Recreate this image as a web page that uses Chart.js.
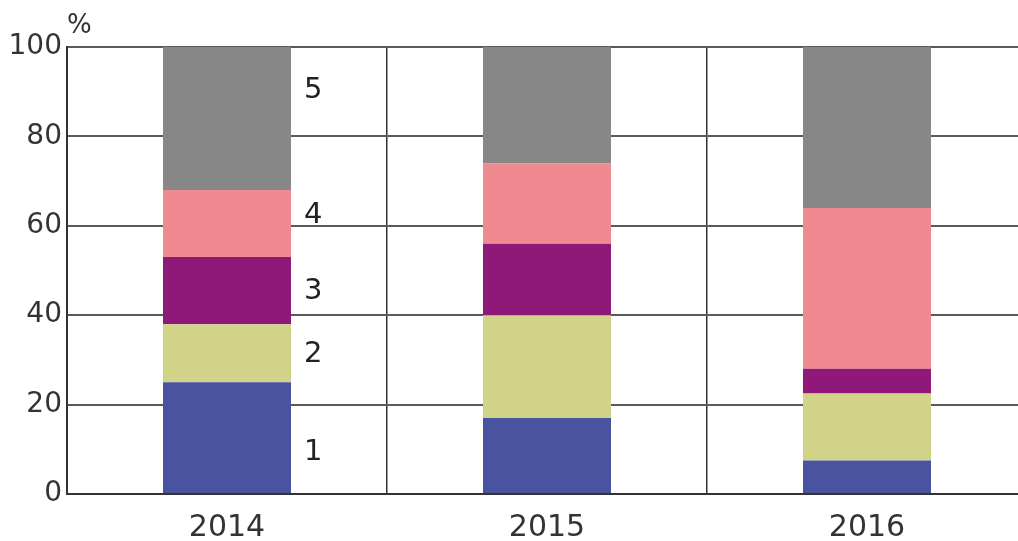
<!DOCTYPE html>
<html>
<head>
<meta charset="utf-8">
<script src="https://cdn.jsdelivr.net/npm/chart.js@4"></script>
<style>
html,body{margin:0;padding:0;background:#fff;overflow:hidden;}
#wrap{width:1018px;height:541px;overflow:hidden;}
</style>
</head>
<body>
<div id="wrap"><canvas id="c" width="1028" height="541"></canvas></div>
<script>
const categories = ['2014', '2015', '2016'];
const seriesNames = ['1', '2', '3', '4', '5'];
const s1 = [25, 17, 7.5];
const s2 = [13, 23, 15];
const s3 = [15, 16, 5.5];
const s4 = [15, 18, 36];
const s5 = [32, 26, 36];
const colors = ['#4a53a0', '#d1d488', '#8e1979', '#ef8a90', '#878787'];
const yTicks = [0, 20, 40, 60, 80, 100];
// label positions (in % units) for segment labels beside the 2014 bar
const labelPos = [9.3, 31.3, 45.4, 62.4, 90.3];

const seriesData = [s1, s2, s3, s4, s5];
const FONT = 'DejaVu Sans';

const segLabels = {
  id: 'segLabels',
  afterDatasetsDraw(chart) {
    const ctx = chart.ctx;
    const y = chart.scales.y;
    const meta = chart.getDatasetMeta(0);
    const bar = meta.data[0];
    const lx = bar.x + bar.width / 2 + 13;
    ctx.save();
    ctx.fillStyle = '#222';
    ctx.font = '29px "' + FONT + '"';
    ctx.textAlign = 'left';
    ctx.textBaseline = 'middle';
    seriesNames.forEach((n, i) => {
      ctx.fillText(n, lx, y.getPixelForValue(labelPos[i]));
    });
    ctx.font = '26px "' + FONT + '"';
    ctx.fillStyle = '#333';
    ctx.textBaseline = 'alphabetic';
    ctx.fillText('%', chart.chartArea.left, chart.chartArea.top - 14);
    ctx.restore();
  }
};

new Chart(document.getElementById('c'), {
  type: 'bar',
  data: {
    labels: categories,
    datasets: seriesData.map((d, i) => ({
      label: seriesNames[i],
      data: d,
      backgroundColor: colors[i],
      borderWidth: 0,
      barPercentage: 0.4,
      categoryPercentage: 1.0
    }))
  },
  options: {
    responsive: false,
    animation: false,
    layout: { padding: { top: 47, right: 1, left: 0, bottom: 0 } },
    plugins: { legend: { display: false }, tooltip: { enabled: false } },
    scales: {
      x: {
        stacked: true,
        grid: { display: true, offset: true, color: '#333', lineWidth: 1.5, drawTicks: false },
        border: { display: true, color: '#333', width: 2 },
        ticks: { color: '#333', font: { family: FONT, size: 30, lineHeight: 1.0 }, padding: 19 },
        afterFit(scale) { scale.height = 47; }
      },
      y: {
        stacked: true,
        min: 0, max: 100,
        afterBuildTicks(scale) { scale.ticks = yTicks.map(v => ({ value: v })); },
        grid: { color: '#5a5a5a', lineWidth: 2, drawTicks: false },
        border: { display: true, color: '#333', width: 2 },
        ticks: { color: '#333', font: { family: FONT, size: 28 }, padding: 5 },
        afterFit(scale) { scale.width = 67; }
      }
    }
  },
  plugins: [segLabels]
});
</script>
</body>
</html>
